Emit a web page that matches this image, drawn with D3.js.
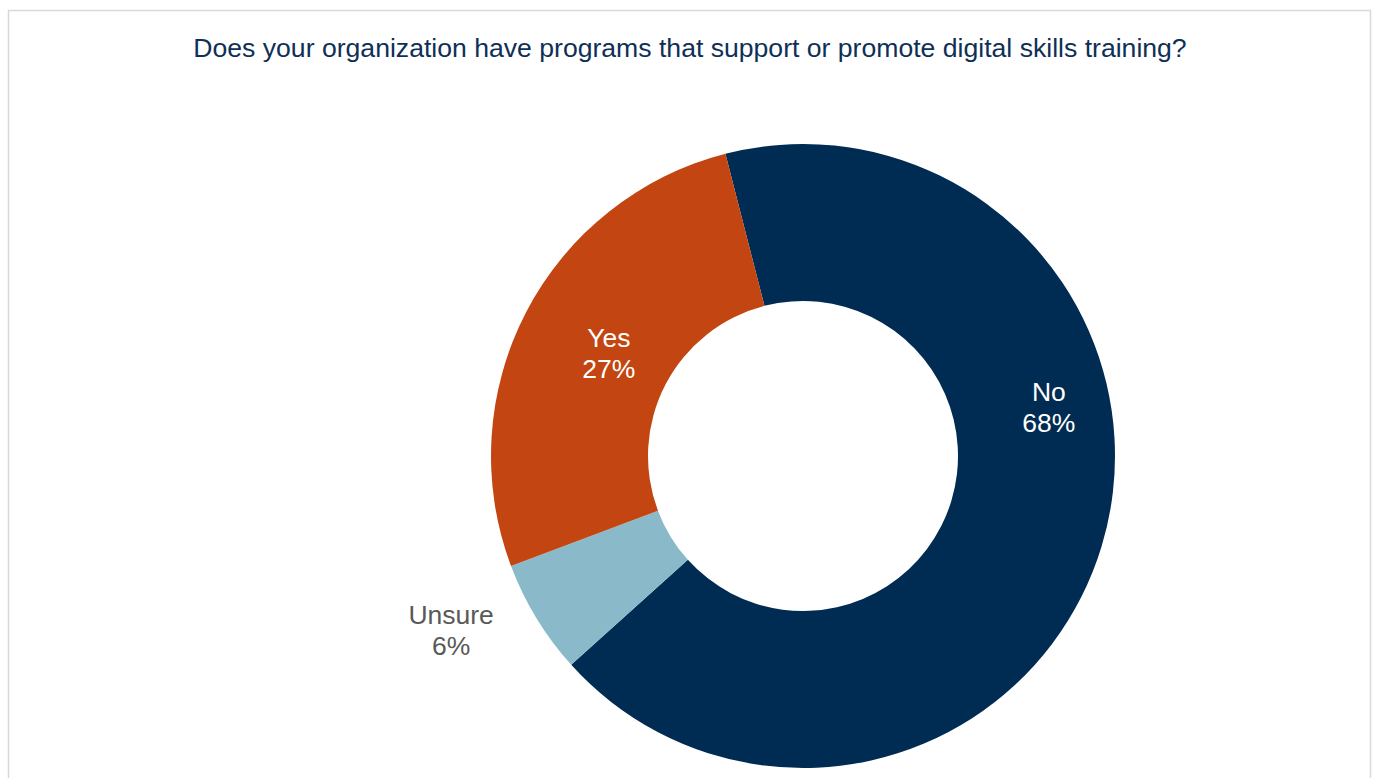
<!DOCTYPE html>
<html>
<head>
<meta charset="utf-8">
<script src="https://cdn.jsdelivr.net/npm/d3@7"></script>
<style>
  body { margin: 0; background: #fff; }
  svg text { font-family: "Liberation Sans", Arial, sans-serif; }
</style>
</head>
<body>
<svg id="chart" width="1374" height="778"></svg>
<script>
// chart data
var title = "Does your organization have programs that support or promote digital skills training?";
var categories = ["No", "Unsure", "Yes"];
var values = [68, 6, 27];
var colors = ["#002B52", "#8ABACA", "#C34511"];
var labelColors = ["#ffffff", "#595959", "#ffffff"];

// label placement (angle in degrees from 12 o'clock, radius relative to outer radius)
var labelAngle = [78.7, 243.7, 298];
var labelRadius = [0.8035, 1.258, 0.705];

var width = 1374, height = 778;
var cx = 803, cy = 456;
var outerR = 312, innerR = 155;
var startDeg = -14.4;

var svg = d3.select("#chart");

// outer frame
svg.append("rect")
    .attr("x", 8.5)
    .attr("y", 10.5)
    .attr("width", 1362)
    .attr("height", 800)
    .attr("fill", "#fff")
    .attr("stroke", "#D9D9D9")
    .attr("stroke-width", 1.5);

// title
svg.append("text")
    .attr("x", 690)
    .attr("y", 57)
    .attr("text-anchor", "middle")
    .attr("fill", "#0E3057")
    .style("font-size", "26.6px")
    .text(title);

var data = categories.map(function(c, i){
    return {name: c, value: values[i], color: colors[i], labelColor: labelColors[i]};
});

var rad = Math.PI / 180;
var pie = d3.pie()
    .sort(null)
    .value(function(d){ return d.value; })
    .startAngle(startDeg * rad)
    .endAngle((startDeg + 360) * rad);

var arc = d3.arc().innerRadius(innerR).outerRadius(outerR);

var g = svg.append("g").attr("transform", "translate(" + cx + "," + cy + ")");

g.selectAll(".slice")
    .data(pie(data))
    .enter()
    .append("path")
    .attr("class", "slice")
    .attr("d", arc)
    .attr("fill", function(d){ return d.data.color; });

// labels
var labels = g.selectAll(".label")
    .data(pie(data))
    .enter()
    .append("text")
    .attr("class", "label")
    .attr("text-anchor", "middle")
    .attr("fill", function(d){ return d.data.labelColor; })
    .style("font-size", "26.5px")
    .attr("transform", function(d, i){
        var a = labelAngle[i] * rad;
        var r = labelRadius[i] * outerR;
        return "translate(" + (Math.sin(a) * r) + "," + (-Math.cos(a) * r) + ")";
    });

labels.append("tspan")
    .attr("x", 0)
    .attr("y", -6)
    .text(function(d){ return d.data.name; });

labels.append("tspan")
    .attr("x", 0)
    .attr("y", 25)
    .text(function(d){ return d.data.value + "%"; });
</script>
</body>
</html>
